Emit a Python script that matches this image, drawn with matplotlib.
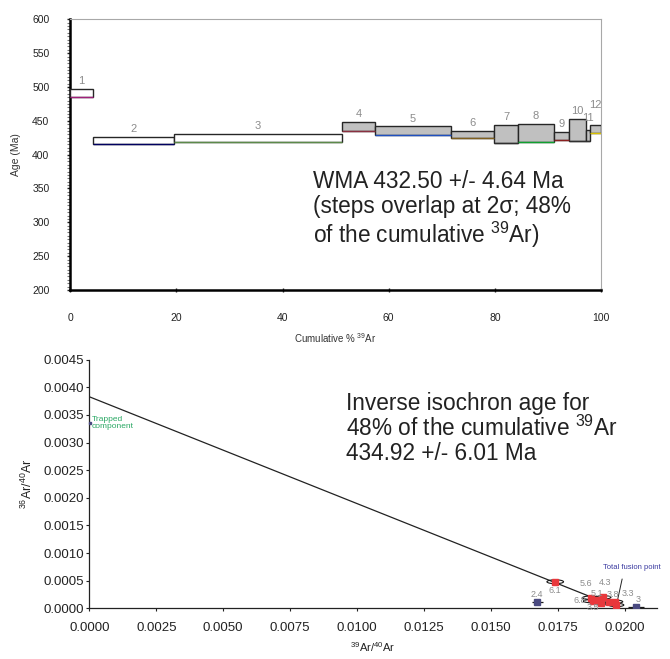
import matplotlib
matplotlib.use("Agg")
import matplotlib.pyplot as plt
from matplotlib.patches import Ellipse
from matplotlib.ticker import MultipleLocator, FormatStrFormatter
import numpy as np

plt.rcParams['font.family'] = ['Liberation Sans', 'DejaVu Sans']
plt.rcParams['mathtext.fontset'] = 'custom'
plt.rcParams['mathtext.rm'] = 'Liberation Sans'
plt.rcParams['mathtext.it'] = 'Liberation Sans:italic'
plt.rcParams['mathtext.bf'] = 'Liberation Sans:bold'

# ---- step-heating spectrum ----
step_names = ['1', '2', '3', '4', '5', '6', '7', '8', '9', '10', '11', '12']
step_pct_39ar = [4.3, 15.3, 31.6, 6.3, 14.2, 8.2, 4.4, 6.9, 2.7, 3.3, 0.8, 2.0]
step_age = [490.8, 421.3, 424.8, 441.8, 435.4, 430.0, 431.2, 432.4, 427.8, 437.0, 428.5, 437.9]
step_err2s = [5.9, 5.4, 5.9, 6.2, 6.2, 5.6, 13.3, 13.1, 6.0, 16.3, 8.1, 6.2]
step_in_plateau = [False, False, False, True, True, True, True, True, True, True, True, True]

# ---- inverse isochron ----
iso_x = [0.01673, 0.01740, 0.01872, 0.01880, 0.01899, 0.01920, 0.01912, 0.01940, 0.01962, 0.01968, 0.02043]
iso_y = [0.00012, 0.000481, 0.000192, 0.00013, 0.00015, 0.000199, 0.00009, 0.00012, 0.00012, 0.00006, 0.00003]
iso_sx = [0.00020, 0.00031, 0.00030, 0.00035, 0.00030, 0.00028, 0.00030, 0.00030, 0.00030, 0.00028, 0.00030]
iso_sy = [0.00001, 0.000035, 0.00003, 0.00003, 0.00003, 0.00003, 0.00003, 0.00003, 0.00003, 0.00003, 0.00002]
iso_label = ['2.4', '6.1', '5.6', '6.8', '5.1', '4.3', '3.5', '', '3.8', '3.3', '3']
iso_used = [False, True, True, True, True, True, True, True, True, True, False]
trapped_36_40 = 0.00383
radiogenic_39_40 = 0.01980

# styling
edge_line_colors = ['#a0207a', '#000060', '#5c8a4a', '#8a3040', '#2050c0', '#806020',
                    '#303030', '#10a030', '#8a2020', '#303030', '#303030', '#d8c000']
label_lift = [2, 2, 2, 2, 2, 2, 2, 2, 2, 2, 5, 11]
iso_label_offset = [(0, 5), (0, -6.5), (-3, 10.5), (-9, 0.5), (-1, 5), (1, 10.5), (-6, -3),
                    (0, 0), (-1, 5.5), (8, 8.5), (1, 5.5)]

fig = plt.figure(figsize=(6.7, 6.59), dpi=100)

# ================= spectrum panel =================
ax1 = fig.add_axes([0.1049, 0.56, 0.7921, 0.4107])
starts = np.concatenate([[0], np.cumsum(step_pct_39ar)[:-1]])
ages = np.array(step_age)
errs = np.array(step_err2s)
fills = ['#c0c0c0' if p else 'white' for p in step_in_plateau]
ax1.bar(starts, 2 * errs, width=step_pct_39ar, bottom=ages - errs, align='edge',
        color=fills, edgecolor='#262626', linewidth=1.0, zorder=3)
ax1.hlines(ages - errs, starts, starts + np.array(step_pct_39ar), colors=edge_line_colors,
           linewidth=1.0, zorder=4)
for name, s, w, a, e, lift in zip(step_names, starts, step_pct_39ar, ages, errs, label_lift):
    ax1.annotate(name, (s + w / 2, a + e), xytext=(0, lift), textcoords='offset points',
                 ha='center', va='bottom', fontsize=8, color='#8c8c8c')

ax1.set_xlim(0, 100)
ax1.set_ylim(200, 600)
ax1.xaxis.set_major_locator(MultipleLocator(20))
ax1.yaxis.set_major_locator(MultipleLocator(50))
ax1.yaxis.set_minor_locator(MultipleLocator(5))
ax1.tick_params(axis='y', which='major', direction='out', length=2, width=1, pad=13,
                labelsize=7.5, colors='#222222')
ax1.tick_params(axis='y', which='minor', direction='out', length=2, width=0.8, color='#777777')
ax1.tick_params(axis='x', which='major', direction='inout', length=3, width=1, pad=15,
                labelsize=7.5, colors='#222222')
for side in ['left', 'bottom']:
    ax1.spines[side].set_linewidth(1.8)
    ax1.spines[side].set_color('black')
for side in ['top', 'right']:
    ax1.spines[side].set_linewidth(0.8)
    ax1.spines[side].set_color('#a8a8a8')
ax1.set_ylabel('Age (Ma)', fontsize=7.5, color='#333333', labelpad=8)
ax1.set_xlabel(r'Cumulative % $^{39}$Ar', fontsize=7, color='#333333', labelpad=6)
ax1.text(45.7, 377, 'WMA 432.50 +/- 4.64 Ma\n(steps overlap at 2σ; 48%\n' +
         r'of the cumulative $^{39}$Ar)', fontsize=16.3, color='#222222',
         ha='left', va='top', linespacing=1.08)

# ================= isochron panel =================
ax2 = fig.add_axes([0.1333, 0.0769, 0.8473, 0.3772])
ax2.set_xlim(0, 0.0212)
ax2.set_ylim(0, 0.0045)

xs = np.array([0, radiogenic_39_40])
ax2.plot(xs, trapped_36_40 * (1 - xs / radiogenic_39_40), color='#222222', lw=0.9, zorder=2)

for x, y, sx, sy, used in zip(iso_x, iso_y, iso_sx, iso_sy, iso_used):
    if used:
        ax2.add_patch(Ellipse((x, y), 2 * sx, 2 * sy, facecolor='none', edgecolor='#1a1a1a',
                              lw=0.8, zorder=3))
    else:
        ax2.errorbar(x, y, xerr=sx, yerr=sy, fmt='none', ecolor='#1a1a1a', elinewidth=0.9,
                     zorder=3)
for x, y, used in zip(iso_x, iso_y, iso_used):
    ax2.plot(x, y, marker='s', ms=4.5, mfc='#e8383c' if used else '#4a4a80',
             mec='#e8383c' if used else '#4a4a80', zorder=4, ls='none')
for x, y, lab, off in zip(iso_x, iso_y, iso_label, iso_label_offset):
    if lab:
        ax2.annotate(lab, (x, y), xytext=off, textcoords='offset points', ha='center',
                     va='center', fontsize=6.5, color='#8c8c8c', zorder=5)

# trapped component intercept marker
ax2.plot(0.00003, 0.00336, marker='s', ms=2, color='#4a4a80', clip_on=False, zorder=5)
ax2.text(0.00009, 0.00336, 'Trapped\ncomponent', fontsize=6, color='#2aa864',
         ha='left', va='center', linespacing=1.0)

# total fusion point pointer
ax2.text(0.02025, 0.00074, 'Total fusion point', fontsize=5.5, color='#3a3aa0',
         ha='center', va='center')
ax2.annotate('', xy=(0.01970, 0.00009), xytext=(0.01992, 0.00058),
             arrowprops=dict(arrowstyle='-', color='#222222', lw=0.7))

ax2.xaxis.set_major_locator(MultipleLocator(0.0025))
ax2.yaxis.set_major_locator(MultipleLocator(0.0005))
ax2.xaxis.set_major_formatter(FormatStrFormatter('%.4f'))
ax2.yaxis.set_major_formatter(FormatStrFormatter('%.4f'))
ax2.tick_params(axis='both', direction='out', length=2.5, width=0.8, labelsize=9.5,
                colors='#222222')
ax2.tick_params(axis='x', pad=7)
ax2.tick_params(axis='y', pad=1.5)
for side in ['top', 'right']:
    ax2.spines[side].set_visible(False)
for side in ['left', 'bottom']:
    ax2.spines[side].set_linewidth(0.9)
    ax2.spines[side].set_color('#222222')
ax2.set_ylabel(r'$^{36}$Ar/$^{40}$Ar', fontsize=9, color='#222222', labelpad=6)
ax2.set_xlabel(r'$^{39}$Ar/$^{40}$Ar', fontsize=8, color='#222222', labelpad=5)
ax2.text(0.00958, 0.00392, 'Inverse isochron age for\n' +
         r'48% of the cumulative $^{39}$Ar' + '\n434.92 +/- 6.01 Ma', fontsize=16.3,
         color='#222222', ha='left', va='top', linespacing=1.04)

fig.savefig('out.png', dpi=100)
